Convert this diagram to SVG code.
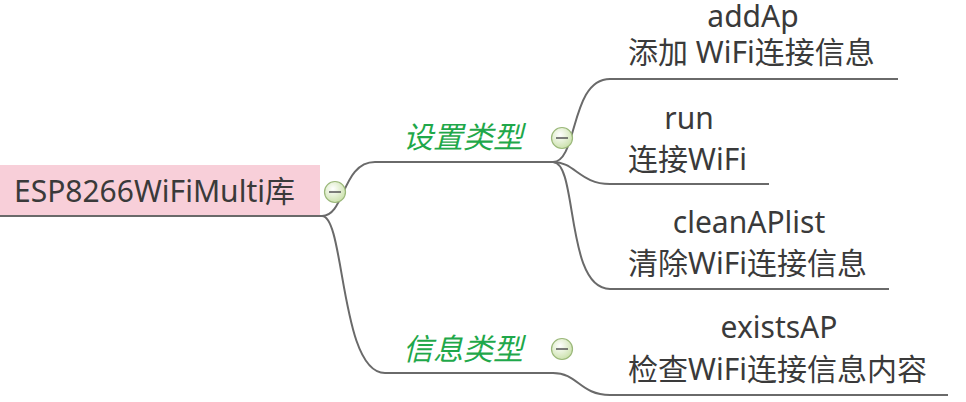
<svg xmlns="http://www.w3.org/2000/svg" width="966" height="402" viewBox="0 0 966 402">
<defs>
<radialGradient id="cg" cx="0.4" cy="0.35" r="0.7">
<stop offset="0" stop-color="#ffffff"/>
<stop offset="1" stop-color="#c9e0a8"/>
</radialGradient>
<style>
.t{font-family:"Noto Sans","Noto Sans CJK SC",sans-serif;font-size:30px;fill:#3a3a3a;}
.g{font-family:"Noto Sans","Noto Sans CJK SC",sans-serif;font-size:30px;fill:#1fa84a;font-style:italic;}
.ln{fill:none;stroke:#6a6a6a;stroke-width:2;}
.cc{fill:url(#cg);stroke:#9bb87a;stroke-width:1.2;}
.cm{stroke:#555;stroke-width:1.5;}
</style>
</defs>
<rect width="966" height="402" fill="#ffffff"/>
<g id="connectors">
<path class="ln" d="M0,216 L322,216"/>
<path class="ln" d="M322,216 C345,216 342,162 375,162 L553,162"/>
<path class="ln" d="M322,216 C345,216 340,373 385,373 L553,373 C578,373 580,395 610,395 L948,395"/>
<path class="ln" d="M553,162 C578,162 570,79 610,79 L898,79"/>
<path class="ln" d="M553,162 C575,162 580,184 610,184 L769,184"/>
<path class="ln" d="M553,162 C578,162 565,289 610,289 L889,289"/>
</g>
<g id="root">
<rect x="0" y="165" width="320" height="50" fill="#f8cfd9"/>
<text class="t" x="14" y="202">ESP8266WiFiMulti库</text>
<circle class="cc" cx="335" cy="192" r="10.5"/>
<line class="cm" x1="329" y1="192" x2="341" y2="192"/>
</g>
<g id="settype">
<text class="g" x="403" y="148">设置类型</text>
<circle class="cc" cx="562" cy="138" r="10.5"/>
<line class="cm" x1="556" y1="138" x2="568" y2="138"/>
</g>
<g id="infotype">
<text class="g" x="403" y="360">信息类型</text>
<circle class="cc" cx="562" cy="349" r="10.5"/>
<line class="cm" x1="556" y1="349" x2="568" y2="349"/>
</g>
<g id="addAp">
<text class="t" x="753" y="27" text-anchor="middle">addAp</text>
<text class="t" x="628" y="63">添加 WiFi连接信息</text>
</g>
<g id="run">
<text class="t" x="689" y="129" text-anchor="middle">run</text>
<text class="t" x="628" y="170">连接WiFi</text>
</g>
<g id="cleanAPlist">
<text class="t" x="749" y="233" text-anchor="middle">cleanAPlist</text>
<text class="t" x="628" y="274">清除WiFi连接信息</text>
</g>
<g id="existsAP">
<text class="t" x="779" y="338" text-anchor="middle">existsAP</text>
<text class="t" x="628" y="380">检查WiFi连接信息内容</text>
</g>
</svg>
